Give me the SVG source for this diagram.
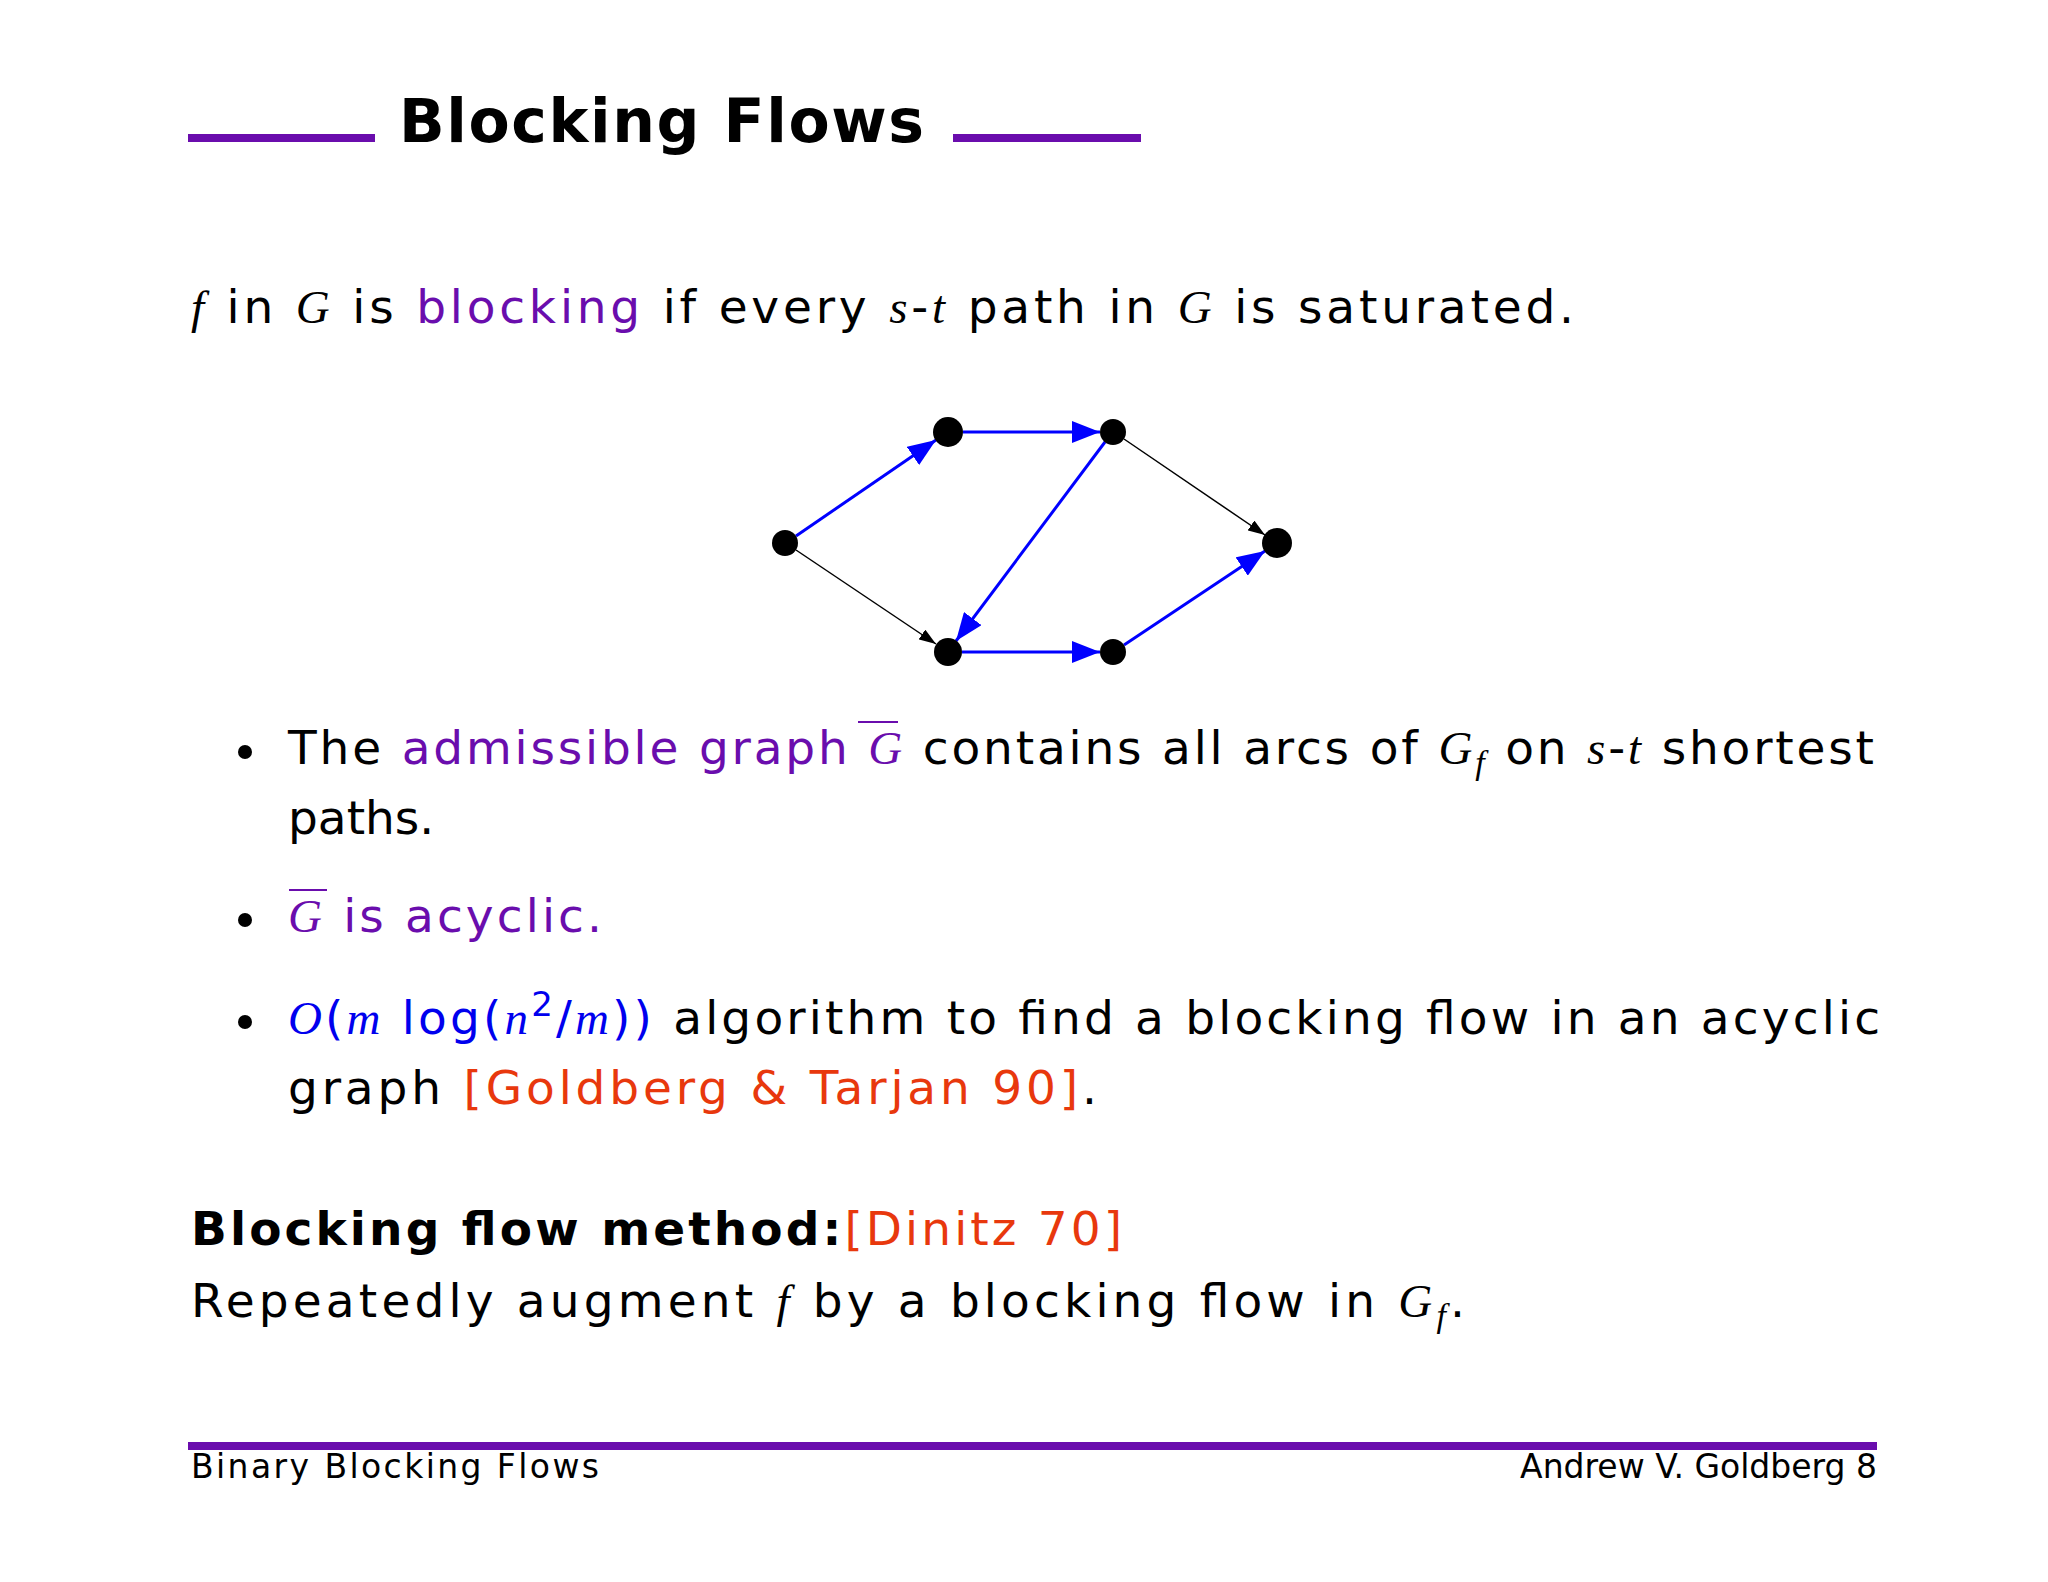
<svg xmlns="http://www.w3.org/2000/svg" width="2048" height="1582" viewBox="0 0 2048 1582">
<style>
.t{font-family:"DejaVu Sans","Liberation Sans",sans-serif;font-size:47px;fill:#000}
.m{font-family:"Liberation Serif",serif;font-style:italic}
.p{fill:#6a0dad}.r{fill:#e8380d}.b{fill:#0000ee}
.blue{stroke:#0000ff;stroke-width:3;fill:none}
.blk{stroke:#000;stroke-width:1.5;fill:none}
.n{fill:#000}
.rule{stroke:#6a0dad;stroke-width:8}
</style>
<defs>
<marker id="ab" markerUnits="userSpaceOnUse" markerWidth="30" markerHeight="22" refX="28" refY="11" orient="auto"><path d="M0,0 L28,11 L0,22 z" fill="#0000ff"/></marker>
<marker id="ak" markerUnits="userSpaceOnUse" markerWidth="18" markerHeight="12" refX="17" refY="6" orient="auto"><path d="M0,0 L17,6 L0,12 z" fill="#000"/></marker>
</defs>
<rect width="2048" height="1582" fill="#fff"/>
<line class="rule" x1="188" y1="138" x2="375" y2="138"/>
<line class="rule" x1="953" y1="138" x2="1141" y2="138"/>
<text x="399" y="142" class="t" style="font-weight:bold;font-size:60px" textLength="525">Blocking Flows</text>
<text x="191" y="323" class="t" textLength="1383"><tspan class="m">f</tspan> in <tspan class="m">G</tspan> is <tspan class="p">blocking</tspan> if every <tspan class="m">s</tspan>-<tspan class="m">t</tspan> path in <tspan class="m">G</tspan> is saturated.</text>
<g id="connectors">
<line class="blue" x1="796" y1="536" x2="936" y2="440" marker-end="url(#ab)"/>
<line class="blue" x1="963" y1="432" x2="1100" y2="432" marker-end="url(#ab)"/>
<line class="blue" x1="1105" y1="442" x2="956" y2="641" marker-end="url(#ab)"/>
<line class="blk" x1="1124" y1="439" x2="1265" y2="535" marker-end="url(#ak)"/>
<line class="blk" x1="796" y1="550" x2="936" y2="644" marker-end="url(#ak)"/>
<line class="blue" x1="962" y1="652" x2="1100" y2="652" marker-end="url(#ab)"/>
<line class="blue" x1="1124" y1="645" x2="1265" y2="551" marker-end="url(#ab)"/>
</g>
<g id="s"><circle class="n" cx="785" cy="543" r="13"/></g>
<g id="a"><circle class="n" cx="948" cy="432" r="15"/></g>
<g id="b"><circle class="n" cx="1113" cy="432" r="13"/></g>
<g id="t"><circle class="n" cx="1277" cy="543" r="15"/></g>
<g id="c"><circle class="n" cx="948" cy="652" r="14"/></g>
<g id="d"><circle class="n" cx="1113" cy="652" r="13"/></g>
<circle cx="245" cy="752" r="7"/>
<circle cx="245" cy="920" r="7"/>
<circle cx="245" cy="1022" r="7"/>
<text x="288" y="764" class="t" textLength="1586">The <tspan class="p">admissible graph <tspan class="m">G</tspan></tspan> contains all arcs of <tspan class="m">G</tspan><tspan class="m" dy="10" font-size="34">f</tspan><tspan dy="-10"> on </tspan><tspan class="m">s</tspan>-<tspan class="m">t</tspan> shortest</text>
<line x1="858" y1="722" x2="898" y2="722" stroke="#6a0dad" stroke-width="2"/>
<text x="288" y="834" class="t">paths.</text>
<text x="288" y="932" class="t p" textLength="314"><tspan class="m">G</tspan> is acyclic.</text>
<line x1="289" y1="890" x2="327" y2="890" stroke="#6a0dad" stroke-width="2"/>
<text x="288" y="1034" class="t" textLength="1592"><tspan class="b"><tspan class="m">O</tspan>(<tspan class="m">m</tspan> log(<tspan class="m">n</tspan><tspan dy="-18" font-size="34">2</tspan><tspan dy="18">/</tspan><tspan class="m">m</tspan>))</tspan> algorithm to find a blocking flow in an acyclic</text>
<text x="288" y="1104" class="t" textLength="809">graph <tspan class="r">[Goldberg &amp; Tarjan 90]</tspan>.</text>
<text x="191" y="1245" class="t" textLength="931"><tspan style="font-weight:bold">Blocking flow method:</tspan><tspan class="r">[Dinitz 70]</tspan></text>
<text x="191" y="1317" class="t" textLength="1274">Repeatedly augment <tspan class="m">f</tspan> by a blocking flow in <tspan class="m">G</tspan><tspan class="m" dy="10" font-size="34">f</tspan><tspan dy="-10">.</tspan></text>
<line class="rule" x1="188" y1="1446" x2="1877" y2="1446"/>
<text x="191" y="1478" class="t" style="font-size:33px" textLength="408">Binary Blocking Flows</text>
<text x="1877" y="1478" class="t" style="font-size:33px" text-anchor="end">Andrew V. Goldberg 8</text>
</svg>
